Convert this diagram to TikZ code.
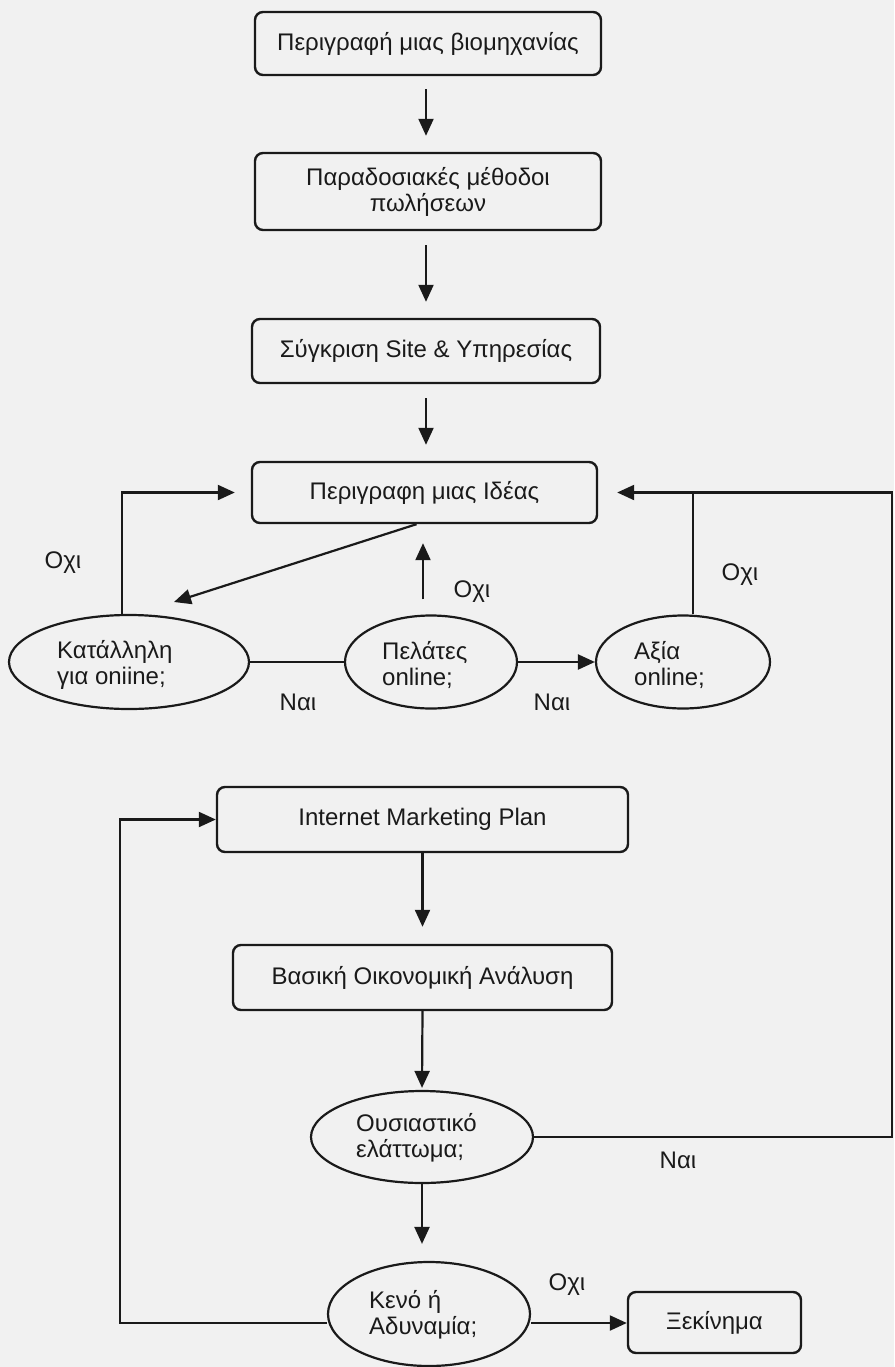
\documentclass[tikz,border=0pt]{standalone}
\usepackage{fontspec}
\setmainfont{Liberation Sans}
\usetikzlibrary{arrows.meta,shapes.geometric}
\definecolor{paper}{HTML}{F1F1F1}
\definecolor{ink}{HTML}{1A1A1A}
\begin{document}
\begin{tikzpicture}[x=1pt,y=-1pt,
  every node/.style={font=\fontsize{24}{26}\selectfont, text=ink},
  stepbox/.style={draw=ink, line width=2.4pt, rounded corners=8pt, inner sep=0pt, align=center},
  question/.style={draw=ink, ellipse, line width=2.2pt, inner sep=0pt},
  qtext/.style={anchor=west, align=left, inner sep=0pt},
  lbl/.style={inner sep=0pt},
  link/.style={draw=ink, line width=2.2pt},
  thinlink/.style={draw=ink, line width=1.3pt},
  arr/.style={link, -{Triangle[length=17pt,width=15pt]}}]

% page
\fill[paper] (0,0) rectangle (894,1367);
\useasboundingbox (0,0) rectangle (894,1367);

% main steps
\node[stepbox, minimum width=346, minimum height=63] (b1) at (428,43.5) {Περιγραφή μιας βιομηχανίας};
\node[stepbox, minimum width=346, minimum height=77] (b2) at (428,191.5) {Παραδοσιακές μέθοδοι\\πωλήσεων};
\node[stepbox, minimum width=348, minimum height=64] (b3) at (426,351) {Σύγκριση Site \& Υπηρεσίας};
\node[stepbox, minimum width=345, minimum height=61] (b4) at (424.5,492.5) {Περιγραφη μιας Ιδέας};

% the three questions
\node[question, minimum width=240, minimum height=94] (e1) at (129,662) {};
\node[qtext] (t1) at (57,665) {Κατάλληλη\\για oniine;};
\node[question, minimum width=172, minimum height=93] (e2) at (431,662) {};
\node[qtext] (t2) at (382,665) {Πελάτες\\online;};
\node[question, minimum width=174, minimum height=93] (e3) at (683,662) {};
\node[qtext] (t3) at (634,665) {Αξία\\online;};

% plan and analysis
\node[stepbox, minimum width=411, minimum height=65] (b5) at (422.5,819.5) {Internet Marketing Plan};
\node[stepbox, minimum width=379, minimum height=65] (b6) at (422.5,977.5) {Βασική Οικονομική Ανάλυση};

\node[question, minimum width=222, minimum height=92] (e4) at (422,1137) {};
\node[qtext] (t4) at (356,1138) {Ουσιαστικό\\ελάττωμα;};
\node[question, minimum width=202, minimum height=104] (e5) at (429,1314) {};
\node[qtext] (t5) at (369,1315) {Κενό ή\\Αδυναμία;};
\node[stepbox, minimum width=173, minimum height=61] (b7) at (714.5,1322.5) {Ξεκίνημα};

% top chain
\draw[arr] ([xshift=-2pt,yshift=-13pt]b1.south) -- ([xshift=-2pt,yshift=16pt]b2.north);
\draw[arr] ([xshift=-2pt,yshift=-14pt]b2.south) -- ([xshift=0pt,yshift=16pt]b3.north);
\draw[arr] ([xshift=0pt,yshift=-14pt]b3.south) -- ([xshift=1.5pt,yshift=16pt]b4.north);

% idea loop
\coordinate (dtip) at (174,602);
\draw[arr] ([xshift=-8pt]b4.south) -- (dtip);
\draw[arr] ([xshift=-7pt]e1.north) |- ([xshift=-16pt]b4.west);
\draw[arr] ([xshift=-8pt,yshift=15pt]e2.north) -- ([xshift=-1.5pt,yshift=-19pt]b4.south);
\draw[link] (e1.east) -- (e2.west);
\draw[arr] (e2.east) -- (e3.west);
\draw[thinlink] ([xshift=10pt]e3.north) -- ([xshift=10pt]e3.north |- b4.east);

\node[lbl] (n1) at (63,563) {Οχι};
\node[lbl] (n2) at (472,592) {Οχι};
\node[lbl] (n3) at (740,575) {Οχι};
\node[lbl] (y1) at (298,702) {Ναι};
\node[lbl] (y2) at (552,702) {Ναι};

% lower chain
\draw[arr] (b5.south) -- ([yshift=17pt]b6.north);
\draw[arr] (b6.south) -- ([yshift=2pt]e4.north);
\draw[arr] (e4.south) -- ([yshift=17pt]e5.north -| e4.south);

% back to the idea on a flaw
\coordinate (rt) at (892,492.5);
\draw[arr] (e4.east) -| (rt) -- ([xshift=19pt]b4.east);
\node[lbl] (y3) at (678,1160) {Ναι};

% back to the plan, or start
\coordinate (lc) at (120,1323);
\draw[arr] ([yshift=-9pt]e5.west) -- (lc) |- (b5.west);
\draw[arr] ([yshift=-9pt]e5.east) -- ([yshift=-9pt]e5.east -| b7.west);
\node[lbl] (n4) at (567,1285) {Οχι};

\end{tikzpicture}
\end{document}
